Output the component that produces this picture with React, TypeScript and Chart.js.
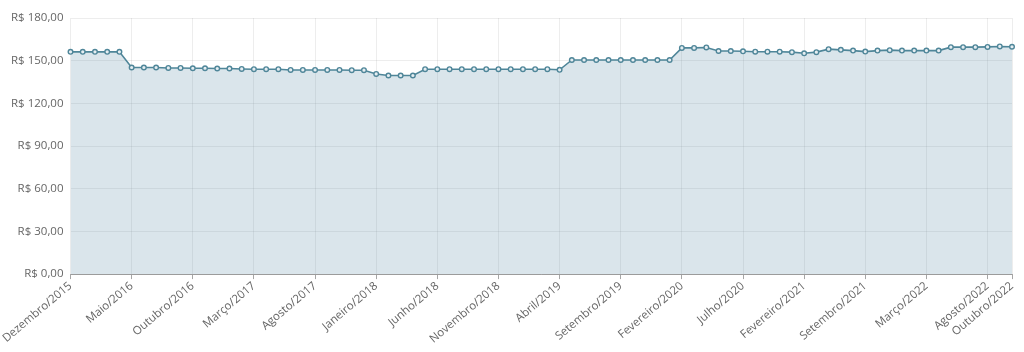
import React, { useEffect, useRef } from "react";
import { Chart, registerables } from "chart.js";

Chart.register(...registerables);

const labels: string[] = [
  "Dezembro/2015",
  "Janeiro/2016", "Fevereiro/2016", "Março/2016", "Abril/2016", "Maio/2016", "Junho/2016",
  "Julho/2016", "Agosto/2016", "Setembro/2016", "Outubro/2016", "Novembro/2016", "Dezembro/2016",
  "Janeiro/2017", "Fevereiro/2017", "Março/2017", "Abril/2017", "Maio/2017", "Junho/2017",
  "Julho/2017", "Agosto/2017", "Setembro/2017", "Outubro/2017", "Novembro/2017", "Dezembro/2017",
  "Janeiro/2018", "Fevereiro/2018", "Março/2018", "Abril/2018", "Maio/2018", "Junho/2018",
  "Julho/2018", "Agosto/2018", "Setembro/2018", "Outubro/2018", "Novembro/2018", "Dezembro/2018",
  "Janeiro/2019", "Fevereiro/2019", "Março/2019", "Abril/2019", "Maio/2019", "Junho/2019",
  "Julho/2019", "Agosto/2019", "Setembro/2019", "Outubro/2019", "Novembro/2019", "Dezembro/2019",
  "Janeiro/2020", "Fevereiro/2020", "Março/2020", "Abril/2020", "Maio/2020", "Junho/2020",
  "Julho/2020", "Agosto/2020", "Setembro/2020", "Novembro/2020", "Dezembro/2020",
  "Fevereiro/2021", "Março/2021", "Abril/2021", "Maio/2021", "Junho/2021",
  "Setembro/2021", "Outubro/2021", "Novembro/2021", "Janeiro/2022", "Fevereiro/2022",
  "Março/2022", "Abril/2022", "Maio/2022", "Junho/2022", "Julho/2022",
  "Agosto/2022", "Setembro/2022", "Outubro/2022",
];

const prices: number[] = [
  156.2, 156.2, 156.2, 156.2, 156.2,
  145.2, 145.2, 145.2, 144.9, 144.9,
  144.7, 144.7, 144.5, 144.5, 144.2,
  144.0, 144.0, 144.0, 143.5, 143.5,
  143.5, 143.5, 143.5, 143.3, 143.3,
  140.7, 139.6, 139.6, 139.6, 144.0,
  144.0, 144.0, 144.0, 144.0, 144.0,
  144.0, 144.0, 144.0, 144.0, 144.0,
  143.6, 150.5, 150.5, 150.5, 150.5,
  150.5, 150.5, 150.5, 150.5, 150.5,
  159.0, 159.0, 159.3, 156.8, 156.8,
  156.6, 156.3, 156.3, 156.3, 156.0,
  155.2, 156.0, 158.1, 157.6, 157.1,
  156.4, 157.1, 157.4, 157.1, 157.1,
  157.1, 157.1, 159.5, 159.5, 159.5,
  159.7, 160.0, 159.8,
];

const yTicks: number[] = [0, 30, 60, 90, 120, 150, 180];

const fmt = (v: number) => "R$ " + v.toFixed(2).replace(".", ",");

export default function App() {
  const ref = useRef<HTMLCanvasElement | null>(null);

  useEffect(() => {
    if (!ref.current) return;
    const last = labels.length - 1;
    const chart = new Chart(ref.current, {
      type: "line",
      data: {
        labels,
        datasets: [
          {
            data: prices,
            borderColor: "#4f8699",
            borderWidth: 1.6,
            backgroundColor: "rgba(80,130,160,0.21)",
            fill: true,
            tension: 0,
            pointRadius: 2.3,
            pointBorderWidth: 1.4,
            pointBackgroundColor: "#e6eef2",
            pointBorderColor: "#4f8699",
          },
        ],
      },
      options: {
        animation: false,
        responsive: true,
        maintainAspectRatio: false,
        layout: { padding: { top: 18, right: 12, left: 4, bottom: 6 } },
        plugins: { legend: { display: false }, tooltip: { enabled: false } },
        scales: {
          x: {
            grid: {
              color: "rgba(0,0,0,0.07)",
              tickLength: 5,
              tickColor: "rgba(0,0,0,0.35)",
            },
            border: { color: "rgba(0,0,0,0.35)", width: 1 },
            ticks: {
              autoSkip: false,
              minRotation: 40,
              maxRotation: 40,
              padding: 0,
              color: "#666",
              font: { family: "'Open Sans'", size: 11.5 },
              callback: (_v: any, i: number) =>
                i % 5 === 0 || i === last ? labels[i] : null,
            },
          },
          y: {
            min: yTicks[0],
            max: yTicks[yTicks.length - 1],
            grid: { color: "rgba(0,0,0,0.07)", drawTicks: false },
            border: { display: false },
            afterBuildTicks: (axis: any) => {
              axis.ticks = yTicks.map((v) => ({ value: v }));
            },
            ticks: {
              padding: 7,
              color: "#666",
              font: { family: "'Open Sans'", size: 11.5 },
              callback: (v: any) => fmt(Number(v)),
            },
          },
        },
      },
    });
    return () => chart.destroy();
  }, []);

  return (
    <div style={{ position: "fixed", left: 0, top: 0, width: 1024, height: 352 }}>
      <canvas ref={ref} />
    </div>
  );
}
